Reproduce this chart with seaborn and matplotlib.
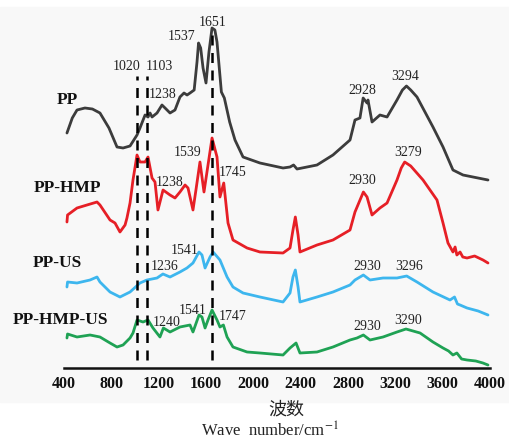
import numpy as np
import pandas as pd
import matplotlib
matplotlib.use('Agg')
import matplotlib.pyplot as plt
from matplotlib.patches import Rectangle
import seaborn as sns

sns.set_style('white')
plt.rcParams['font.family'] = ['Liberation Serif', 'DejaVu Serif']
plt.rcParams['mathtext.fontset'] = 'stix'

# FTIR spectra, stacked (vertical offset already included)
pp_x = [425, 470, 510, 577, 640, 704, 780, 848, 899, 958, 1017, 1042, 1085, 1110, 1127, 1144,
        1186, 1228, 1254, 1296, 1338, 1380, 1414, 1440, 1465, 1500, 1524, 1537, 1555, 1575,
        1600, 1625, 1651, 1675, 1693, 1730, 1755, 1800, 1845, 1913, 2056, 2251, 2310, 2340,
        2369, 2538, 2673, 2817, 2859, 2901, 2928, 2961, 2969, 3003, 3070, 3130, 3214, 3260,
        3294, 3330, 3383, 3518, 3603, 3687, 3772, 3983]
pp_y = [235, 250, 258, 260, 259, 255, 240, 221, 220, 222, 233, 240, 253, 251, 255, 251,
        255, 263, 260, 255, 258, 271, 275, 273, 275, 278, 306, 325, 320, 300,
        285, 316, 340, 338, 326, 276, 270, 246, 228, 211, 205, 200, 201, 203,
        199, 203, 213, 228, 248, 250, 270, 265, 268, 246, 253, 251, 268, 278,
        282, 278, 271, 241, 221, 198, 193, 188]

hmp_x = [425, 430, 510, 594, 679, 704, 789, 831, 873, 916, 932, 958, 983, 1017, 1042, 1085,
         1110, 1144, 1169, 1194, 1237, 1296, 1338, 1380, 1423, 1448, 1490, 1515, 1549, 1583,
         1617, 1651, 1693, 1718, 1750, 1786, 1828, 1947, 2056, 2251, 2310, 2335, 2355, 2378,
         2394, 2538, 2673, 2817, 2859, 2930, 2961, 3003, 3070, 3130, 3214, 3250, 3279, 3330,
         3434, 3493, 3552, 3603, 3645, 3687, 3705, 3720, 3747, 3770, 3806, 3870, 3941, 3983]
hmp_y = [146, 153, 160, 163, 166, 163, 148, 145, 136, 143, 150, 165, 188, 213, 206, 206,
         211, 190, 186, 158, 178, 173, 170, 176, 183, 180, 158, 178, 206, 176,
         203, 230, 211, 171, 185, 145, 128, 120, 116, 115, 120, 138, 151, 133,
         116, 123, 128, 138, 156, 176, 171, 153, 160, 165, 188, 200, 206, 202,
         188, 178, 168, 145, 125, 116, 121, 113, 116, 111, 110, 112, 108, 105]

us_x = [425, 430, 510, 620, 679, 704, 789, 873, 958, 1042, 1101, 1186, 1236, 1296, 1380, 1439,
        1490, 1541, 1566, 1592, 1634, 1660, 1718, 1778, 1828, 1913, 2056, 2251, 2310, 2335,
        2355, 2378, 2394, 2538, 2673, 2817, 2859, 2930, 2986, 3096, 3214, 3296, 3383, 3518,
        3662, 3700, 3725, 3747, 3806, 3900, 3983]
us_y = [81, 86, 85, 88, 91, 86, 76, 71, 76, 85, 88, 90, 94, 91, 96, 100,
        105, 116, 113, 100, 111, 116, 108, 91, 81, 75, 71, 66, 75, 91,
        98, 81, 66, 71, 76, 83, 88, 93, 88, 90, 90, 92, 86, 76,
        68, 71, 64, 63, 60, 57, 53]

hmpus_x = [425, 430, 510, 620, 704, 789, 848, 899, 958, 983, 1017, 1068, 1110, 1152, 1211, 1240,
           1296, 1380, 1465, 1490, 1541, 1566, 1592, 1617, 1651, 1693, 1718, 1747, 1778, 1828,
           1947, 2056, 2251, 2310, 2361, 2394, 2538, 2673, 2817, 2876, 2930, 2986, 3096, 3214,
           3290, 3409, 3518, 3603, 3650, 3687, 3720, 3760, 3806, 3880, 3940, 3983]
hmpus_y = [30, 34, 31, 33, 31, 25, 21, 23, 30, 35, 48, 46, 48, 40, 31, 40,
           36, 41, 43, 36, 53, 51, 40, 48, 58, 48, 41, 43, 31, 21,
           16, 15, 13, 20, 25, 15, 16, 21, 28, 30, 33, 28, 31, 36,
           39, 35, 26, 20, 17, 13, 15, 9, 8, 7, 5, 3]

series_names = ['PP', 'PP-HMP', 'PP-US', 'PP-HMP-US']
series_colors = ['#3c3c3c', '#e61f26', '#3db6ee', '#1fa254']
series_x = [pp_x, hmp_x, us_x, hmpus_x]
series_y = [pp_y, hmp_y, us_y, hmpus_y]
name_pos = [(425, 268), (425, 180), (341, 105), (366, 48)]

# dashed reference lines
ref_x = [1020, 1103, 1651]
ref_top = [292, 292, 340]

# peak labels
peak_text = ['1020', '1103', '1537', '1651', '1238', '2928', '3294',
             '1539', '1238', '1745', '2930', '3279',
             '1236', '1541', '2930', '3296',
             '1240', '1541', '1747', '2930', '3290']
peak_x = [932, 1203, 1397, 1659, 1237, 2918, 3282,
          1448, 1296, 1828, 2918, 3307,
          1254, 1423, 2961, 3316,
          1270, 1490, 1828, 2961, 3307]
peak_y = [301, 301, 331, 346, 273, 278, 291,
          215, 186, 195, 188, 215,
          102, 118, 102, 101,
          45, 58, 51, 41, 48]

xticks = [400, 800, 1200, 1600, 2000, 2400, 2800, 3200, 3600, 4000]

fig = plt.figure(figsize=(5.09, 4.45), dpi=100)
fig.patches.append(Rectangle((0, 0.097), 1, 0.887, transform=fig.transFigure,
                             color='#f8f8f8', zorder=-10))
ax = fig.add_axes([64 / 509, 77 / 445, 426 / 509, 368 / 445])
ax.patch.set_alpha(0)

for name, col, xs, ys in zip(series_names, series_colors, series_x, series_y):
    df = pd.DataFrame({'wn': xs, 'val': ys})
    sns.lineplot(data=df, x='wn', y='val', color=col, lw=2, sort=False,
                 estimator=None, ax=ax)

ax.vlines(ref_x, 8, ref_top, colors='black', linestyles=(0, (4, 3)), lw=1.8, zorder=5)

for t, x, y in zip(peak_text, peak_x, peak_y):
    ax.text(x, y, t, ha='center', va='center', fontsize=10, color='#222222')

for name, (x, y) in zip(series_names, name_pos):
    ax.text(x, y, name, ha='center', va='center', fontsize=12.5, fontweight='bold',
            color='#111111')

ax.set_xlim(400, 4000)
ax.set_ylim(0, 368)
ax.set_xticks(xticks)
ax.set_xticklabels([str(v) for v in xticks], fontweight='bold', fontsize=11.5)
ax.set_yticks([])
ax.tick_params(axis='x', direction='in', length=6, width=1.6, pad=6, colors='#111111')
for s in ['top', 'left', 'right']:
    ax.spines[s].set_visible(False)
ax.spines['bottom'].set_linewidth(1.8)
ax.spines['bottom'].set_color('#111111')
ax.set_xlabel('')
ax.set_ylabel('')

fig.text(286 / 509, 1 - 410 / 445, '波数', ha='center', va='center', fontsize=13,
         family=['Noto Sans CJK SC', 'DejaVu Sans'], color='#222222')
fig.text(270 / 509, 1 - 431 / 445, 'Wave  number/cm$^{-1}$', ha='center', va='center',
         fontsize=12, color='#222222')

fig.savefig('out.png', dpi=100)
